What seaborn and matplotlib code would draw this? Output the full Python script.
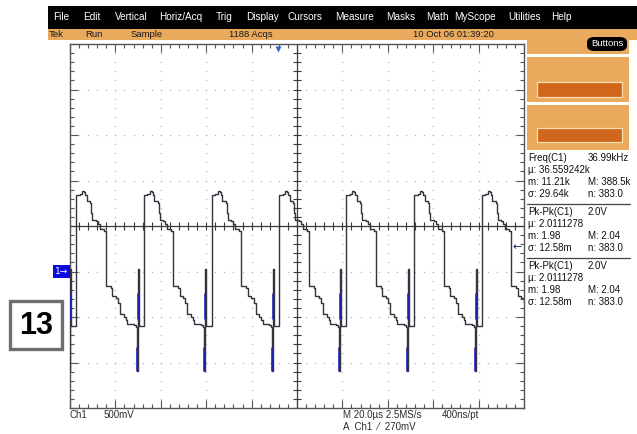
import numpy as np
import pandas as pd
import matplotlib
matplotlib.use("Agg")
import matplotlib.pyplot as plt
import seaborn as sns
from matplotlib.patches import Rectangle, FancyBboxPatch
from matplotlib.transforms import blended_transform_factory

# ---- Ch1 acquisition -------------------------------------------------------
# One cycle of the stepped Ch1 trace: time after the rising edge (µs) and level (V)
cycle_offset_us = [0.00, 0.22, 1.76, 2.86, 3.74, 4.18, 4.84, 6.37, 6.81, 7.25,
                   8.79, 9.67, 10.55, 12.31, 13.19, 15.38, 16.04, 17.58, 18.68,
                   19.56, 21.10, 21.98, 22.64, 25.49, 26.37, 26.81, 27.25, 27.69]
cycle_level_v = [-0.60, 0.84, 0.85, 0.88, 0.87, 0.84, 0.78, 0.75, 0.64, 0.57,
                 0.56, 0.52, 0.47, 0.45, -0.16, -0.18, -0.27, -0.29, -0.35,
                 -0.47, -0.50, -0.53, -0.58, -0.59, -0.61, -1.09, 0.03, -0.60]
# Rising edges of the captured cycles (µs relative to the trigger point)
rise_times_us = [-127.2, -97.4, -67.8, -37.8, -8.1, 21.5, 51.4, 81.1]
# Short glitches just before each rising edge, drawn at low intensity (blue)
glitch_offset_us = [26.81, 27.25]
glitch_span_v = [(-0.84, -1.09), (-0.25, -0.52)]

# Instrument settings shown on screen
time_per_div_us = 20.0
volts_per_div = 0.5
ch1_offset_div = -1          # Ch1 ground marker position on the graticule
trigger_level_v = 0.27
trigger_time_us = -8.3

menu_items = ["File", "Edit", "Vertical", "Horiz/Acq", "Trig", "Display", "Cursors",
              "Measure", "Masks", "Math", "MyScope", "Utilities", "Help"]
menu_x = [53, 83, 115, 159, 216, 246, 287, 335, 386, 426, 454, 508, 551]
status_items = ["Tek", "Run", "Sample", "1188 Acqs", "10 Oct 06 01:39:20"]
status_x = [49, 85, 131, 229, 413]

meas_left = ["Freq(C1)", "µ: 36.559242k", "m: 11.21k", "σ: 29.64k",
             "Pk-Pk(C1)", "µ: 2.0111278", "m: 1.98", "σ: 12.58m",
             "Pk-Pk(C1)", "µ: 2.0111278", "m: 1.98", "σ: 12.58m"]
meas_right = ["36.99kHz", "", "M: 388.5k", "n: 383.0",
              "2.0V", "", "M: 2.04", "n: 383.0",
              "2.0V", "", "M: 2.04", "n: 383.0"]
meas_y = [158, 170, 182, 194, 212, 224, 236, 248, 266, 278, 290, 302]

# ---- build the trace table -------------------------------------------------
rows = []
for r in rise_times_us:
    for o, v in zip(cycle_offset_us, cycle_level_v):
        rows.append((r + o, v))
trace = pd.DataFrame(rows, columns=["t_us", "v"])

# ---- figure ----------------------------------------------------------------
sns.set_style("white")
plt.rcParams["font.family"] = ["Liberation Sans", "DejaVu Sans"]

W, H = 637, 434
fig = plt.figure(figsize=(W / 100, H / 100), dpi=100)
fig.patch.set_facecolor("white")

ORANGE = "#E9AA5E"
DARK_ORANGE = "#D0661C"
TEXT = "#2b2b2b"
TRACE = "#34343f"


def fx(x):
    return x / W


def fy(y):
    return 1 - y / H


def frect(x0, y0, x1, y1, **kw):
    fig.add_artist(Rectangle((fx(x0), fy(y1)), (x1 - x0) / W, (y1 - y0) / H,
                             transform=fig.transFigure, **kw))


def ftext(x, y, s, **kw):
    kw.setdefault("va", "center")
    kw.setdefault("ha", "left")
    fig.text(fx(x), fy(y), s, **kw)


# menu bar and status bar
frect(48, 6, W, 29, facecolor="black", edgecolor="none")
frect(48, 29, W, 40, facecolor=ORANGE, edgecolor="none")
for s, x in zip(menu_items, menu_x):
    ftext(x, 17.5, s, color="white", fontsize=7.2)
for s, x in zip(status_items, status_x):
    ftext(x, 34.5, s, color="#1a1a1a", fontsize=6.8)

# right-hand button panel
frect(527, 40, 629, 150, facecolor=ORANGE, edgecolor="none")
frect(527, 54, 629, 56.5, facecolor="white", edgecolor="none")
frect(527, 102, 629, 105, facecolor="white", edgecolor="none")
frect(537, 82, 622, 97, facecolor=DARK_ORANGE, edgecolor="#F7DDB2", lw=0.9)
frect(537, 128, 622, 142, facecolor=DARK_ORANGE, edgecolor="#F7DDB2", lw=0.9)
fig.add_artist(FancyBboxPatch((fx(587), fy(51)), (627 - 587) / W, (51 - 37) / H,
                              boxstyle="round,pad=0,rounding_size=0.012",
                              transform=fig.transFigure, facecolor="black",
                              edgecolor="none"))
ftext(607, 44, "Buttons", color="white", fontsize=6.8, ha="center")

# measurement readouts
for s, y in zip(meas_left, meas_y):
    ftext(528, y, s, color="#111111", fontsize=7)
for s, y in zip(meas_right, meas_y):
    if s:
        ftext(588, y, s, color="#111111", fontsize=7)
for y in (203.5, 257.5):
    fig.add_artist(plt.Line2D([fx(527), fx(630)], [fy(y), fy(y)],
                              transform=fig.transFigure, color="#444444", lw=0.9))

# bottom readouts
ftext(70, 415, "Ch1", color=TEXT, fontsize=7)
ftext(104, 415, "500mV", color=TEXT, fontsize=7)
ftext(343, 415, "M 20.0µs 2.5MS/s", color=TEXT, fontsize=7)
ftext(442, 415, "400ns/pt", color=TEXT, fontsize=7)
ftext(343, 427, "A  Ch1  ⁄  270mV", color=TEXT, fontsize=7)

# slide label
frect(10, 301, 62, 349, facecolor="white", edgecolor="#6e6e6e", lw=2.4)
ftext(36, 326, "13", color="black", fontsize=22, fontweight="bold", ha="center")

# ---- graticule -------------------------------------------------------------
ax = fig.add_axes([fx(70), fy(408), (524 - 70) / W, (408 - 44) / H])
x_half = 5 * time_per_div_us
v_center = -ch1_offset_div * volts_per_div
ax.set_xlim(-x_half, x_half)
ax.set_ylim(v_center - 4 * volts_per_div, v_center + 4 * volts_per_div)
ax.set_facecolor("white")

xdiv = np.arange(-x_half, x_half + 1e-9, time_per_div_us)
vdiv = np.arange(v_center - 4 * volts_per_div, v_center + 4 * volts_per_div + 1e-9, volts_per_div)
xminor = np.arange(-x_half, x_half + 1e-9, time_per_div_us / 5)
vminor = np.arange(v_center - 4 * volts_per_div, v_center + 4 * volts_per_div + 1e-9, volts_per_div / 5)

ax.set_xticks(xdiv)
ax.set_yticks(vdiv)
ax.set_xticks(xminor, minor=True)
ax.set_yticks(vminor, minor=True)
ax.tick_params(which="both", direction="in", top=True, right=True, bottom=True, left=True,
               labelbottom=False, labelleft=False, color="#555555", width=0.8)
ax.tick_params(which="major", length=5.5)
ax.tick_params(which="minor", length=3)
for sp in ax.spines.values():
    sp.set_color("#555555")
    sp.set_linewidth(1.0)

# dotted division lines
for xv in xdiv[1:-1]:
    if abs(xv) > 1e-9:
        ax.plot(np.full(len(vminor), xv), vminor, ls="none", marker="s", ms=0.9,
                mec="none", mfc="#b5b5b5", zorder=1)
for vv in vdiv[1:-1]:
    if abs(vv - v_center) > 1e-9:
        ax.plot(xminor, np.full(len(xminor), vv), ls="none", marker="s", ms=0.9,
                mec="none", mfc="#b5b5b5", zorder=1)

# centre cross with minor ticks
ax.axhline(v_center, color="#3a3a3a", lw=0.9, zorder=2)
ax.axvline(0, color="#3a3a3a", lw=0.9, zorder=2)
ax.plot(xminor, np.full(len(xminor), v_center), ls="none", marker="|", ms=6,
        mew=0.8, color="#3a3a3a", zorder=2)
ax.plot(np.zeros(len(vminor)), vminor, ls="none", marker="_", ms=6,
        mew=0.8, color="#3a3a3a", zorder=2)

# Ch1 trace
sns.lineplot(data=trace, x="t_us", y="v", estimator=None, sort=False,
             drawstyle="steps-post", color=TRACE, lw=1.0, ax=ax, zorder=4)
for r in rise_times_us:
    for o, (v0, v1) in zip(glitch_offset_us, glitch_span_v):
        ax.plot([r + o, r + o], [v0, v1], color="#1c1cc8", lw=1.1, zorder=5)
ax.set_xlabel("")
ax.set_ylabel("")

# ground marker, trigger level and trigger position
bt = blended_transform_factory(ax.transAxes, ax.transData)
ax.text(-0.004, 0.0, "1\u2192", transform=bt, ha="right", va="center",
        color="white", fontsize=6.5, family=["DejaVu Sans"],
        bbox=dict(boxstyle="square,pad=0.2", fc="#0a0ae0", ec="none"), clip_on=False)
ax.text(x_half - 1.0, trigger_level_v, "\u2190", ha="right", va="center",
        color="#1a2a70", fontsize=8, family=["DejaVu Sans"], zorder=6)
tt = blended_transform_factory(ax.transData, ax.transAxes)
ax.plot([trigger_time_us], [0.985], transform=tt, marker="v", ms=5,
        color="#2a68c8", mec="none", clip_on=False, zorder=6)

fig.savefig("out.png", dpi=100, facecolor="white")
